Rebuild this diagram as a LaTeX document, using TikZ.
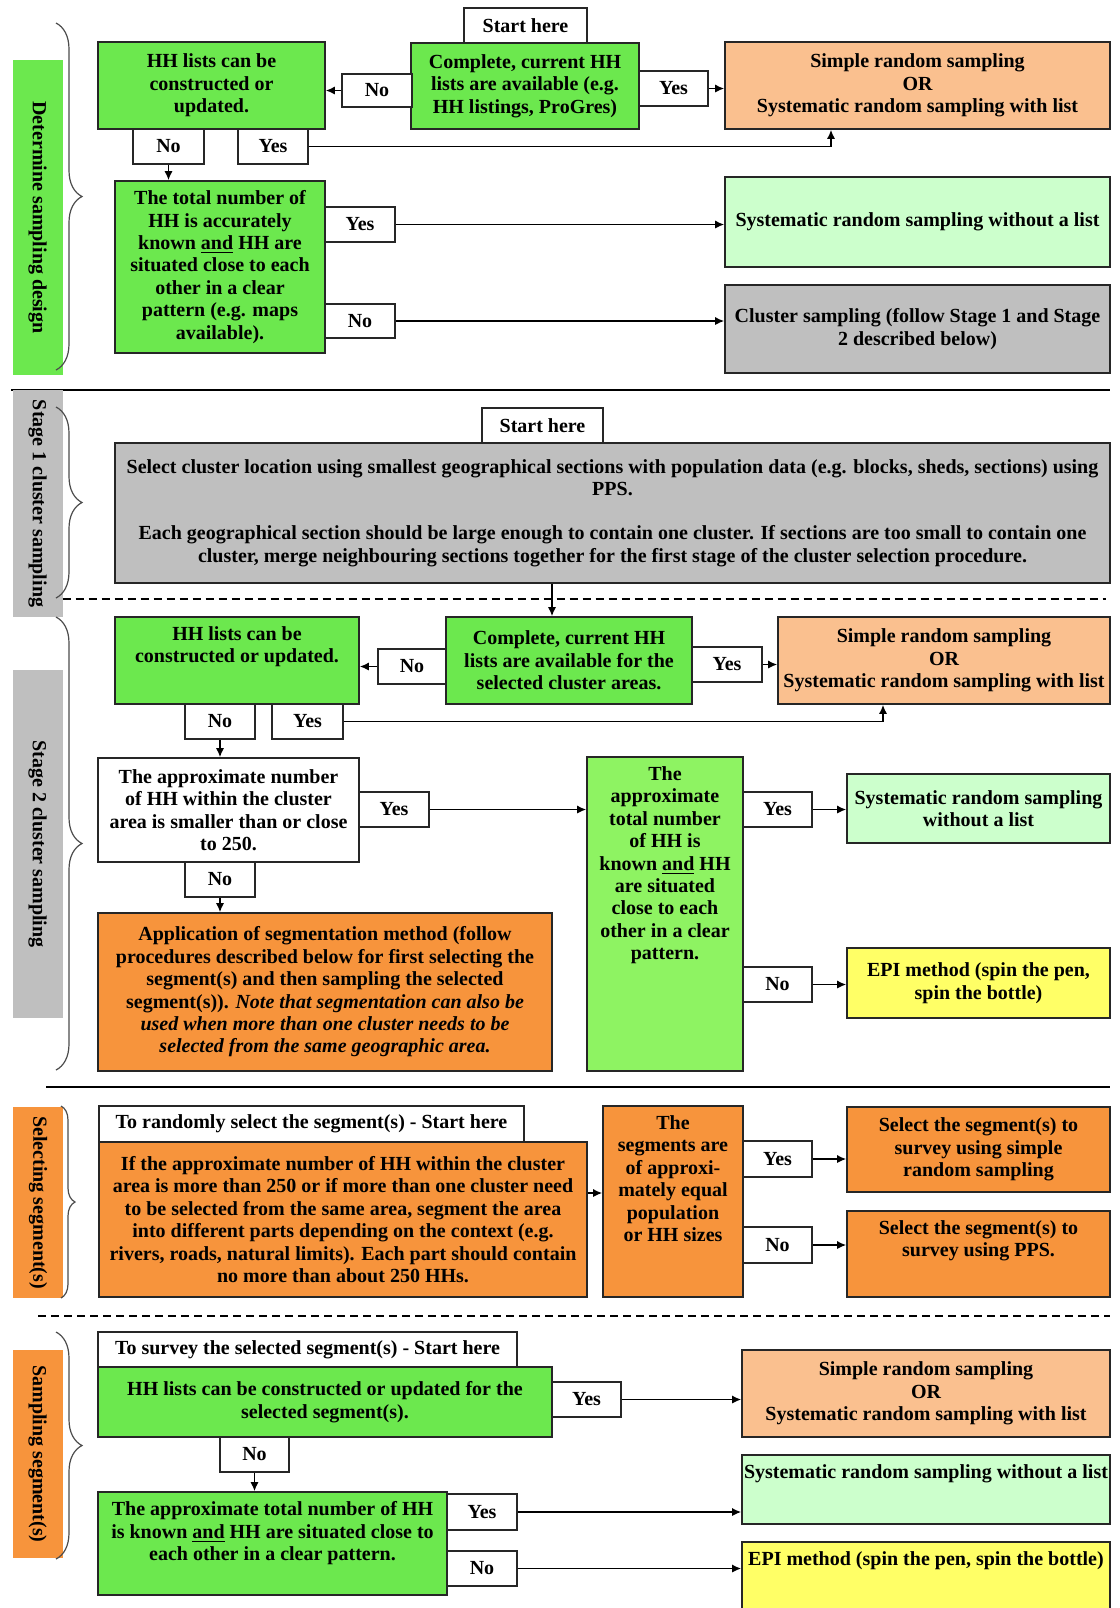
\documentclass[tikz,border=0pt]{standalone}
\usepackage{fontspec}
\setmainfont{Liberation Serif}
\usetikzlibrary{positioning, decorations.pathreplacing, arrows.meta}
\definecolor{hhgreen}{RGB}{108,232,78}
\definecolor{hhlime}{RGB}{142,243,98}
\definecolor{hhpeach}{RGB}{250,192,143}
\definecolor{hhmint}{RGB}{204,255,204}
\definecolor{hhgray}{RGB}{191,191,191}
\definecolor{hhorange}{RGB}{247,148,60}
\definecolor{hhyellow}{RGB}{255,255,102}
\newcommand{\hhfont}{\fontsize{10}{11.2}\selectfont\bfseries}
\begin{document}
\begin{tikzpicture}[x=0.5pt, y=-0.5pt]
\tikzset{hhbox/.style={shape=rectangle, draw=black!85, line width=0.8pt, align=center, inner sep=0pt, font=\hhfont}}
\tikzset{ynbox/.style={hhbox, fill=white, minimum width=35pt, minimum height=17.5pt}}
\tikzset{hhtext/.style={align=center, inner sep=0pt, font=\hhfont}}
\tikzset{hhside/.style={shape=rectangle, rotate=-90, inner sep=0pt, minimum height=25pt, font=\hhfont}}
\tikzset{hharrow/.style={-{Latex[length=4.5pt, width=4pt]}, line width=0.7pt}}
\tikzset{hhbrace/.style={decorate, decoration={brace, amplitude=#1}, line width=0.6pt, draw=black!70}}
\tikzset{hhrule/.style={line width=0.8pt}}
\tikzset{hhdash/.style={line width=0.8pt, dash pattern=on 4pt off 2.5pt}}
\useasboundingbox (0, 0) rectangle (1120, 1608);
% determine sampling design
\node (side1) [hhside, fill=hhgreen, minimum width=157.5pt]             at (37.5, 217.5) {Determine sampling design};
\draw[hhbrace=13pt] (56, 23) -- (56, 370);
\node (start1) [ynbox, minimum width=61.5pt]                            at (525.5, 25.5) {Start here};
\node (comp1) [hhbox, fill=hhgreen, minimum width=114pt, minimum height=43pt]     at (525, 86)
  {Complete, current HH\\lists are available (e.g.\\HH listings, ProGres)};
\node (hhl1) [hhbox, fill=hhgreen, minimum width=113.5pt, minimum height=43.5pt]  at (211.5, 85.5)
  {HH lists can be\\constructed or\\updated.};
\node (no1) [ynbox, minimum height=16.5pt]                              at (377, 90.5) {No};
\node (yes1) [ynbox, minimum width=34.5pt]                              at (673.5, 88.5) {Yes};
\node (srs1) [hhbox, fill=hhpeach, minimum width=192.5pt, minimum height=43.5pt]  at (917.5, 85.5)
  {Simple random sampling\\OR\\Systematic random sampling with list};
\node (no2) [ynbox, minimum width=35.5pt]                               at (168.5, 146.5) {No};
\node (yes2) [ynbox]                                                    at (273, 146.5) {Yes};
\node (tot1) [hhbox, fill=hhgreen, minimum width=105pt, minimum height=86pt]      at (220, 267)
  {The total number of\\HH is accurately\\known \underline{and} HH are\\situated close to each\\other in a clear\\pattern (e.g. maps\\available).};
\node (yes3) [ynbox]                                                    at (360, 224.5) {Yes};
\node (no3) [ynbox, minimum height=17pt]                                at (360, 321) {No};
\node (srw1) [hhbox, fill=hhmint, minimum width=192.5pt, minimum height=45pt]     at (917.5, 222)
  {Systematic random sampling without a list};
\node (cl1) [hhbox, fill=hhgray, minimum width=192.5pt, minimum height=44pt]      at (917.5, 329)
  {Cluster sampling (follow Stage 1 and Stage\\2 described below)};
\draw[hharrow] (no1.west) -- (no1.west -| hhl1.east);
\draw[hharrow] (yes1.east) -- (yes1.east -| srs1.west);
\draw[hharrow] (yes2.east) -| ([xshift=-43.25pt]srs1.south);
\draw[hharrow] (no2.south) -- (no2.south |- tot1.north);
\draw[hharrow] (yes3.east) -- (yes3.east -| srw1.west);
\draw[hharrow] (no3.east) -- (no3.east -| cl1.west);
\draw[hhrule] (11, 390) -- (1110, 390);
% stage 1
\node (side2) [hhside, fill=hhgray, minimum width=113.5pt]              at (37.5, 503.5) {Stage 1 cluster sampling};
\draw[hhbrace=13pt] (56, 407) -- (56, 598);
\node (start2) [ynbox, minimum width=60.5pt]                            at (542.5, 425.5) {Start here};
\node (sel1) [hhbox, fill=hhgray, minimum width=497.5pt, minimum height=70pt]     at (612.5, 513)
  {Select cluster location using smallest geographical sections with population data (e.g. blocks, sheds, sections) using\\PPS.\\[11pt]
   Each geographical section should be large enough to contain one cluster. If sections are too small to contain one\\cluster, merge neighbouring sections together for the first stage of the cluster selection procedure.};
\draw[hhdash] (62.5, 599) -- (1106, 599);
% stage 2
\node (side3) [hhside, fill=hhgray, minimum width=174pt]                at (37.5, 844) {Stage 2 cluster sampling};
\draw[hhbrace=13pt] (56, 617) -- (56, 1070);
\node (hhl2) [hhbox, fill=hhgreen, minimum width=122pt, minimum height=43.5pt]    at (237, 660.5) {};
\node (hhl2t) [hhtext, below=5pt of hhl2.north] {HH lists can be\\constructed or updated.};
\node (comp2) [hhbox, fill=hhgreen, minimum width=123pt, minimum height=43.5pt]   at (569, 660.5)
  {Complete, current HH\\lists are available for the\\selected cluster areas.};
\node (no4) [ynbox, minimum width=34pt]                                 at (412, 666.5) {No};
\node (yes4) [ynbox]                                                    at (727, 664.5) {Yes};
\node (srs2) [hhbox, fill=hhpeach, minimum width=166pt, minimum height=43.5pt]    at (944, 660.5)
  {Simple random sampling\\OR\\Systematic random sampling with list};
\node (no5) [ynbox]                                                     at (220, 721.5) {No};
\node (yes5) [ynbox, minimum width=35.5pt]                              at (307.5, 721.5) {Yes};
\node (app1) [hhbox, fill=white, minimum width=130.5pt, minimum height=52pt]      at (228.5, 810)
  {The approximate number\\of HH within the cluster\\area is smaller than or close\\to 250.};
\node (yes6) [ynbox]                                                    at (394, 809.5) {Yes};
\node (no6) [ynbox]                                                     at (220, 879.5) {No};
\node (seg1) [hhbox, fill=hhorange, minimum width=227pt, minimum height=79pt]     at (325, 992)
  {Application of segmentation method (follow\\procedures described below for first selecting the\\segment(s) and then sampling the selected\\segment(s)). \textit{Note that segmentation can also be}\\
   \textit{used when more than one cluster needs to be}\\\textit{selected from the same geographic area.}};
\node (tot2) [hhbox, fill=hhlime, minimum width=78pt, minimum height=157pt]       at (665, 914) {};
\node (tot2t) [hhtext, below=5pt of tot2.north]
  {The\\approximate\\total number\\of HH is\\known \underline{and} HH\\are situated\\close to each\\other in a clear\\pattern.};
\node (yes7) [ynbox, minimum width=34.5pt]                              at (777.5, 809.5) {Yes};
\node (srw2) [hhbox, fill=hhmint, minimum width=131.5pt, minimum height=34.5pt]   at (978.5, 808.5)
  {Systematic random sampling\\without a list};
\node (no7) [ynbox, minimum width=34.5pt]                               at (777.5, 984.5) {No};
\node (epi1) [hhbox, fill=hhyellow, minimum width=131.5pt, minimum height=35pt]   at (978.5, 983)
  {EPI method (spin the pen,\\spin the bottle)};
\draw[hharrow] ([xshift=-8.5pt]comp2.north |- sel1.south) -- ([xshift=-8.5pt]comp2.north);
\draw[hharrow] (no4.west) -- (no4.west -| hhl2.east);
\draw[hharrow] (yes4.east) -- (yes4.east -| srs2.west);
\draw[hharrow] (yes5.east) -| ([xshift=-30.5pt]srs2.south);
\draw[hharrow] (no5.south) -- (no5.south |- app1.north);
\draw[hharrow] (yes6.east) -- (yes6.east -| tot2.west);
\draw[hharrow] (no6.south) -- (no6.south |- seg1.north);
\draw[hharrow] (yes7.east) -- (yes7.east -| srw2.west);
\draw[hharrow] (no7.east) -- (no7.east -| epi1.west);
\draw[hhrule] (46, 1087) -- (1110, 1087);
% selecting segments
\node (side4) [hhside, fill=hhorange, minimum width=95.5pt]             at (38, 1202.5) {Selecting segment(s)};
\draw[hhbrace=7pt] (61, 1106) -- (61, 1298);
\node (rnd1) [ynbox, minimum width=212.5pt, minimum height=18pt]        at (311.5, 1124)
  {To randomly select the segment(s) - Start here};
\node (seg2) [hhbox, fill=hhorange, minimum width=244pt, minimum height=77.5pt]   at (343, 1219.5)
  {If the approximate number of HH within the cluster\\area is more than 250 or if more than one cluster need\\to be selected from the same area, segment the area\\into different parts depending on the context (e.g.\\rivers, roads, natural limits). Each part should contain\\no more than about 250 HHs.};
\node (eq1) [hhbox, fill=hhorange, minimum width=70pt, minimum height=95.5pt]     at (673, 1201.5) {};
\node (eq1t) [hhtext, below=5pt of eq1.north]
  {The\\segments are\\of approxi-\\mately equal\\population\\or HH sizes};
\node (yes8) [ynbox, minimum width=34.5pt, minimum height=18pt]         at (777.5, 1159) {Yes};
\node (sel2) [hhbox, fill=hhorange, minimum width=131.5pt, minimum height=42.5pt] at (978.5, 1149.5)
  {Select the segment(s) to\\survey using simple\\random sampling};
\node (no8) [ynbox, minimum width=34.5pt, minimum height=18pt]          at (777.5, 1245) {No};
\node (sel3) [hhbox, fill=hhorange, minimum width=131.5pt, minimum height=43pt]   at (978.5, 1254) {};
\node (sel3t) [hhtext, below=5pt of sel3.north] {Select the segment(s) to\\survey using PPS.};
\draw[hharrow] ([yshift=13.25pt]seg2.east) -- ([yshift=13.25pt]seg2.east -| eq1.west);
\draw[hharrow] (yes8.east) -- (yes8.east -| sel2.west);
\draw[hharrow] (no8.east) -- (no8.east -| sel3.west);
\draw[hhdash] (38, 1316) -- (1110, 1316);
% sampling segments
\node (side5) [hhside, fill=hhorange, minimum width=104pt]              at (37.5, 1454) {Sampling segment(s)};
\draw[hhbrace=13pt] (56, 1332) -- (56, 1559);
\node (surv1) [ynbox, minimum width=209.5pt]                            at (307.5, 1349.5)
  {To survey the selected segment(s) - Start here};
\node (hhl3) [hhbox, fill=hhgreen, minimum width=227pt, minimum height=35pt]      at (325, 1402)
  {HH lists can be constructed or updated for the\\selected segment(s).};
\node (yes9) [ynbox, minimum width=34.5pt]                              at (586.5, 1399.5) {Yes};
\node (srs3) [hhbox, fill=hhpeach, minimum width=184pt, minimum height=43.5pt]    at (926, 1393.5)
  {Simple random sampling\\OR\\Systematic random sampling with list};
\node (no9) [ynbox, minimum width=34.5pt]                               at (254.5, 1454.5) {No};
\node (tot3) [hhbox, fill=hhgreen, minimum width=174.5pt, minimum height=51.5pt]  at (272.5, 1543.5) {};
\node (tot3t) [hhtext, below=5pt of tot3.north]
  {The approximate total number of HH\\is known \underline{and} HH are situated close to\\each other in a clear pattern.};
\node (yes10) [ynbox, minimum height=18pt]                              at (482, 1512) {Yes};
\node (no10) [ynbox]                                                    at (482, 1568.5) {No};
\node (srw3) [hhbox, fill=hhmint, minimum width=184pt, minimum height=34.5pt]     at (926, 1489.5) {};
\node (srw3t) [hhtext, below=5pt of srw3.north] {Systematic random sampling without a list};
\node (epi2) [hhbox, fill=hhyellow, minimum width=184pt, minimum height=35pt]     at (926, 1577) {};
\node (epi2t) [hhtext, below=5pt of epi2.north] {EPI method (spin the pen, spin the bottle)};
\draw[hharrow] (yes9.east) -- (yes9.east -| srs3.west);
\draw[hharrow] (no9.south) -- (no9.south |- tot3.north);
\draw[hharrow] (yes10.east) -- (yes10.east -| srw3.west);
\draw[hharrow] (no10.east) -- (no10.east -| epi2.west);
\end{tikzpicture}
\end{document}
